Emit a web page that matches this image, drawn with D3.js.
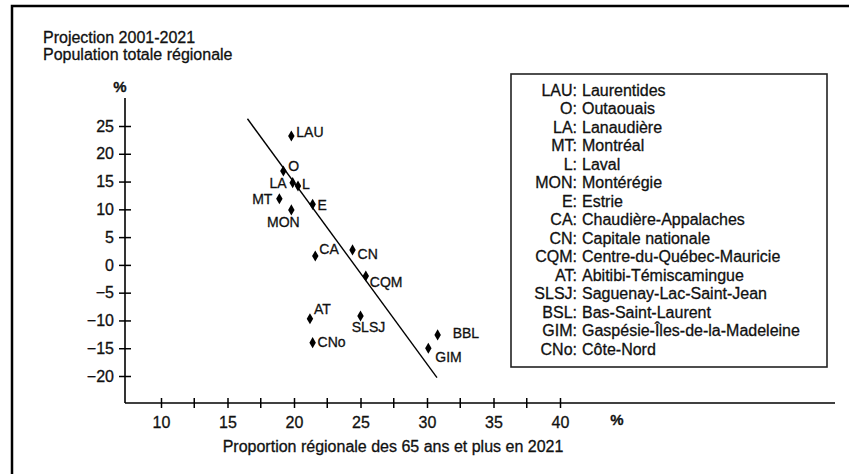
<!DOCTYPE html>
<html>
<head>
<meta charset="utf-8">
<script src="https://cdn.jsdelivr.net/npm/d3@7"></script>
<style>
  body { margin: 0; background: #fff; }
  svg { display: block; }
  text { font-family: "Liberation Sans", Arial, sans-serif; fill: #111; stroke: #111; stroke-width: 0.3px; }
</style>
</head>
<body>
<div id="chart"></div>
<script>
// regions (codes + full names)
const codes = ["LAU", "O", "LA", "MT", "L", "MON", "E", "CA", "CN", "CQM", "AT", "SLSJ", "BSL", "GIM", "CNo"];
const names = ["Laurentides", "Outaouais", "Lanaudière", "Montréal", "Laval", "Montérégie", "Estrie",
  "Chaudière-Appalaches", "Capitale nationale", "Centre-du-Québec-Mauricie", "Abitibi-Témiscamingue",
  "Saguenay-Lac-Saint-Jean", "Bas-Saint-Laurent", "Gaspésie-Îles-de-la-Madeleine", "Côte-Nord"];
// labels as printed next to the points
const pointLabels = ["LAU", "O", "LA", "MT", "L", "MON", "E", "CA", "CN", "CQM", "AT", "SLSJ", "BBL", "GIM", "CNo"];

// x: proportion of 65+ in 2021 (%), y: population growth 2001-2021 (%)
const share65 = [19.8, 19.2, 19.9, 18.9, 20.3, 19.8, 21.4, 21.6, 24.4, 25.4, 21.2, 25.0, 30.8, 30.1, 21.4];
const growth = [23.2, 16.9, 14.8, 11.9, 14.2, 9.9, 10.9, 1.6, 2.7, -2.0, -9.7, -9.2, -12.6, -15.0, -14.0];

// trend line end points
const trendX = [16.5, 30.75];
const trendY = [26.3, -20.3];

const xTicks = [10, 15, 20, 25, 30, 35, 40];
const xMinor = [12.5, 17.5, 22.5, 27.5, 32.5, 37.5];
const yTicks = [25, 20, 15, 10, 5, 0, -5, -10, -15, -20];

// label placement around each point: [dx, dy, anchor]
const labelPos = {
  LAU: [5, -4, "start"], O: [5, -5, "start"], LA: [-6, 0, "end"], MT: [-7, 0, "end"],
  L: [4, -2, "start"], MON: [-8, 12, "middle"], E: [5, 1, "start"], CA: [4, -7, "start"],
  CN: [5, 4, "start"], CQM: [4, 6, "start"], AT: [4, -10, "start"], SLSJ: [8, 11, "middle"],
  BSL: [15, -2, "start"], GIM: [7, 9, "start"], CNo: [5, -1, "start"]
};

const width = 849, height = 474;

const svg = d3.select("#chart").append("svg")
  .attr("width", width)
  .attr("height", height);

// outer frame (cut by the picture on the right and bottom)
svg.append("rect")
  .attr("x", 12).attr("y", 6)
  .attr("width", 900).attr("height", 600)
  .attr("fill", "none")
  .attr("stroke", "#000")
  .attr("stroke-width", 2.5);

const x = d3.scaleLinear().domain([10, 40]).range([161, 560]);
const y = d3.scaleLinear().domain([-20, 25]).range([376, 126]);

const axisX0 = 125, axisY0 = 403;

// titles
svg.append("text").attr("x", 43).attr("y", 43).style("font-size", "16px").text("Projection 2001-2021");
svg.append("text").attr("x", 43).attr("y", 60).style("font-size", "16px").text("Population totale régionale");

// axis lines
svg.append("line")
  .attr("x1", axisX0).attr("x2", axisX0)
  .attr("y1", 98).attr("y2", axisY0)
  .attr("stroke", "#000").attr("stroke-width", 1.6);
svg.append("line")
  .attr("x1", axisX0).attr("x2", 835)
  .attr("y1", axisY0).attr("y2", axisY0)
  .attr("stroke", "#000").attr("stroke-width", 1.6);

// y axis
const gy = svg.append("g")
  .attr("transform", `translate(${axisX0},0)`)
  .call(d3.axisLeft(y).tickValues(yTicks).tickSize(6).tickPadding(5));
gy.select(".domain").remove();
gy.selectAll(".tick line").attr("x1", -6).attr("x2", 6).attr("stroke", "#000").attr("stroke-width", 1.5);
gy.selectAll(".tick text").style("font-size", "16px").attr("fill", "#111").attr("font-family", null);

svg.append("text").attr("x", 120).attr("y", 92)
  .attr("text-anchor", "middle").style("font-size", "15px").style("font-weight", "bold").text("%");

// x axis
const gx = svg.append("g")
  .attr("transform", `translate(0,${axisY0})`)
  .call(d3.axisBottom(x).tickValues(xTicks).tickSize(5).tickPadding(9));
gx.select(".domain").remove();
gx.selectAll(".tick line").attr("y1", -5).attr("y2", 5).attr("stroke", "#000").attr("stroke-width", 1.5);
gx.selectAll(".tick text").style("font-size", "16px").attr("fill", "#111").attr("font-family", null);

svg.append("g").selectAll("line").data(xMinor).join("line")
  .attr("x1", d => x(d)).attr("x2", d => x(d))
  .attr("y1", axisY0 - 5).attr("y2", axisY0 + 5)
  .attr("stroke", "#000").attr("stroke-width", 1.5);

svg.append("text").attr("x", 617).attr("y", 425)
  .attr("text-anchor", "middle").style("font-size", "15px").style("font-weight", "bold").text("%");

svg.append("text").attr("x", 393).attr("y", 452)
  .attr("text-anchor", "middle").style("font-size", "16px")
  .text("Proportion régionale des 65 ans et plus en 2021");

// trend line
svg.append("line")
  .attr("x1", x(trendX[0])).attr("y1", y(trendY[0]))
  .attr("x2", x(trendX[1])).attr("y2", y(trendY[1]))
  .attr("stroke", "#000").attr("stroke-width", 1.4);

// points
const pts = codes.map((c, i) => ({ code: c, label: pointLabels[i], vx: share65[i], vy: growth[i] }));

svg.append("g").selectAll("path").data(pts).join("path")
  .attr("d", d3.symbol(d3.symbolDiamond, 36))
  .attr("transform", d => `translate(${x(d.vx)},${y(d.vy)})`)
  .attr("fill", "#000");

svg.append("g").selectAll("text").data(pts).join("text")
  .attr("x", d => x(d.vx) + labelPos[d.code][0])
  .attr("y", d => y(d.vy) + labelPos[d.code][1])
  .attr("dy", "0.35em")
  .attr("text-anchor", d => labelPos[d.code][2])
  .style("font-size", "14px")
  .text(d => d.label);

// legend box
svg.append("rect")
  .attr("x", 511).attr("y", 74)
  .attr("width", 316).attr("height", 293)
  .attr("fill", "#fff")
  .attr("stroke", "#222")
  .attr("stroke-width", 1.6);

const rowY = d3.scalePoint().domain(codes).range([90, 349]);

const leg = svg.append("g").selectAll("g").data(codes).join("g")
  .attr("transform", d => `translate(0,${rowY(d)})`);
leg.append("text")
  .attr("x", 577).attr("dy", "0.35em")
  .attr("text-anchor", "end")
  .style("font-size", "16px")
  .text(d => d + ":");
leg.append("text")
  .attr("x", 582).attr("dy", "0.35em")
  .style("font-size", "16px")
  .text((d, i) => names[i]);
</script>
</body>
</html>
